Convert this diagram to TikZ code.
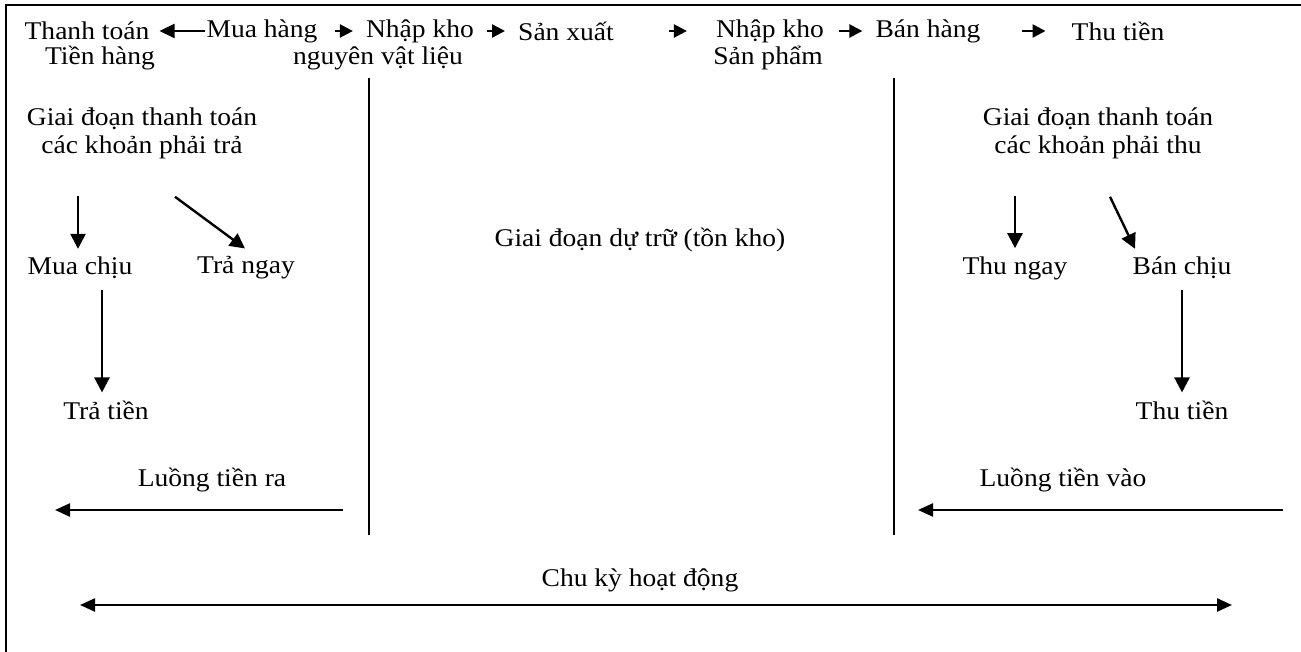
\documentclass[tikz,border=0pt]{standalone}
\usepackage{fontspec}
\setmainfont{Liberation Serif}[FakeStretch=1.08]
\usetikzlibrary{arrows.meta,calc}
\begin{document}
\begin{tikzpicture}[x=1pt,y=-1pt,
  txt/.style={inner sep=0pt,font=\fontsize{25.5}{27}\selectfont},
  arr/.style={line width=2.4pt,-{Triangle[length=15pt,width=15pt]}},
  harr/.style={line width=2.4pt,-{Triangle[length=15pt,width=13pt]}},
  sarr/.style={line width=2.4pt,-{Triangle[length=13pt,width=13pt]}},
  sep/.style={line width=1.4pt}]
\useasboundingbox (0,0) rectangle (1301,652);
\draw[line width=2.2pt] (6,652) -- (6,5) -- (1301,5);
% top row
\node[txt] (tt) at (87,31) {Thanh toán};
\node[txt] (th) at (100,58) {Tiền hàng};
\node[txt] (mh) at (262,31) {Mua hàng};
\node[txt] (nk1) at (420,31) {Nhập kho};
\node[txt] (nvl) at (378,58) {nguyên vật liệu};
\node[txt] (sx) at (566,31) {Sản xuất};
\node[txt] (nk2) at (770,31) {Nhập kho};
\node[txt] (sp) at (768,58) {Sản phẩm};
\node[txt] (bh) at (928,31) {Bán hàng};
\node[txt] (tien) at (1118,31) {Thu tiền};
\draw[line width=2.4pt,-{Triangle[length=15pt,width=14pt]},shorten >=10pt,shorten <=1pt] (mh.west) -- (tt.east);
\draw[sarr,shorten <=17pt,shorten >=13pt] (mh.east) -- (nk1.west);
\draw[sarr,shorten <=13pt,shorten >=13pt] (nk1.east) -- (sx.west);
\draw[sarr,shorten <=55pt,shorten >=29pt] (sx.east) -- (nk2.west);
\draw[sarr,shorten <=15pt,shorten >=13pt] (nk2.east) -- (bh.west);
\draw[sarr,shorten <=41pt,shorten >=26pt] (bh.east) -- (tien.west);
% separators
\coordinate (s1t) at (369,78); \coordinate (s1b) at (369,535);
\coordinate (s2t) at (894,78); \coordinate (s2b) at (894,535);
\draw[sep] (s1t) -- (s1b);
\draw[sep] (s2t) -- (s2b);
% left block
\node[txt] (g1a) at (142,119) {Giai đoạn thanh toán};
\node[txt] (g1b) at (142,147) {các khoản phải trả};
\node[txt] (mc) at (80,268) {Mua chịu};
\node[txt] (tn) at (246,268) {Trả ngay};
\node[txt] (tr) at (106,410) {Trả tiền};
\path (mc.north) ++(-2,0) coordinate (mcn);
\draw[arr,shorten <=37pt,shorten >=8pt] (mcn |- g1b.south) -- (mcn);
\draw[arr] ($(g1b.south)+(33,38)$) -- ($(tn.north)+(-1,-8)$);
\path (mc.south) ++(22,0) coordinate (mcs);
\draw[arr,shorten <=11pt,shorten >=8pt] (mcs) -- (mcs |- tr.north);
\node[txt] (lr) at (212,480) {Luồng tiền ra};
\coordinate (lrt) at (343,510); \coordinate (lrh) at (55,510);
\draw[harr] (lrt) -- (lrh);
% middle
\node[txt] (dt) at (640,240) {Giai đoạn dự trữ (tồn kho)};
% right block
\node[txt] (g2a) at (1098,119) {Giai đoạn thanh toán};
\node[txt] (g2b) at (1098,147) {các khoản phải thu};
\node[txt] (tng) at (1015,268) {Thu ngay};
\node[txt] (bc) at (1182,268) {Bán chịu};
\node[txt] (tt2) at (1182,410) {Thu tiền};
\draw[arr,shorten <=37pt,shorten >=8pt] (tng.north |- g2b.south) -- (tng.north);
\draw[arr] ($(g2b.south)+(12,38)$) -- ($(bc.north)+(-47,-8)$);
\draw[arr,shorten <=11pt,shorten >=8pt] (bc.south) -- (tt2.north);
\node[txt] (lv) at (1063,480) {Luồng tiền vào};
\coordinate (lvt) at (1283,510); \coordinate (lvh) at (918,510);
\draw[harr] (lvt) -- (lvh);
% bottom
\node[txt] (ck) at (640,580) {Chu kỳ hoạt động};
\coordinate (cka) at (80,605); \coordinate (ckb) at (1232,605);
\draw[line width=2.4pt,{Triangle[length=15pt,width=13pt]}-{Triangle[length=15pt,width=13pt]}] (cka) -- (ckb);
\end{tikzpicture}
\end{document}
